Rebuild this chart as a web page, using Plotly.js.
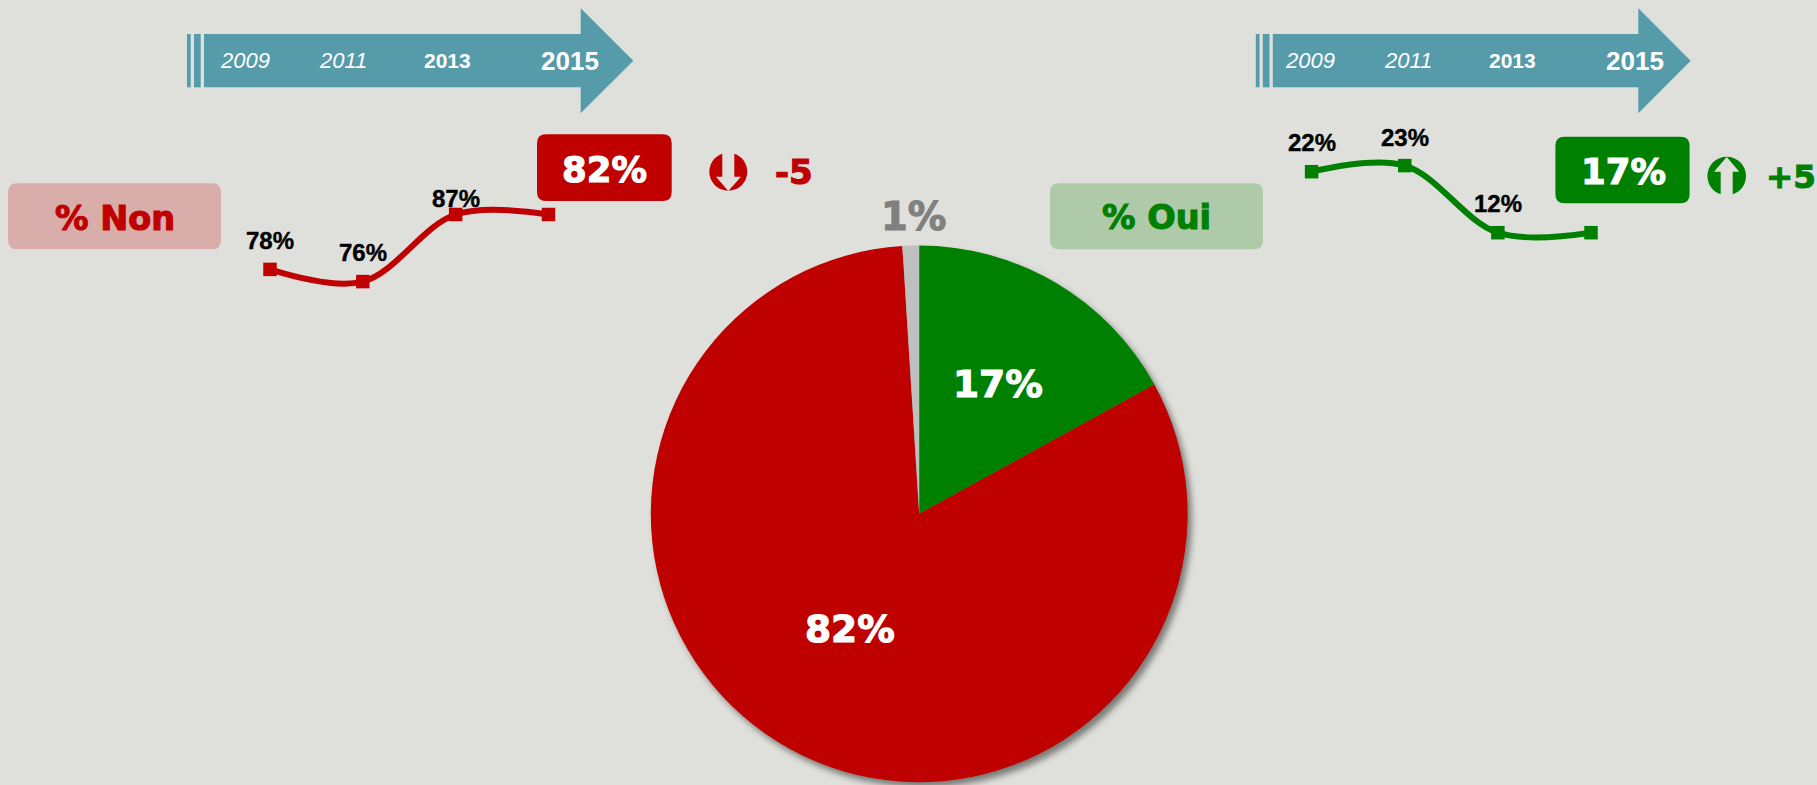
<!DOCTYPE html>
<html><head><meta charset="utf-8">
<script src="https://cdn.plot.ly/plotly-3.0.1.min.js"></script>
<style>html,body{margin:0;padding:0;background:#DFE0DB;overflow:hidden}#c{width:1817px;height:785px}
.pielayer{filter:drop-shadow(4px 5px 3px rgba(0,0,0,.45))}</style>
</head><body><div id="c"></div>
<script>
const years = ['2009','2011','2013','2015'];
const nonValues = [78,76,87,87];
const ouiValues = [22,23,12,12];
const nonLabels = ['78%','76%','87%'];
const ouiLabels = ['22%','23%','12%'];
const nonLatest = '82%', ouiLatest = '17%';
const nonDelta = '-5', ouiDelta = '+5';
const pieLabels = ['% Oui','% Non','NSP'];
const pieValues = [17,82,1];
const pieColors = ['#008000','#BE0000','#BFBFBF'];
const RED='#C00000', GREEN='#008000', TEAL='#559BA9', BG='#DFE0DB';
const W=1817,H=785;
const fx=p=>p/W, fy=p=>1-p/H;
const P=(x,y)=>fx(x)+','+fy(y);
const shapes=[], ann=[];
function path(pts,fill){shapes.push({type:'path',xref:'paper',yref:'paper',path:'M'+pts.map(p=>P(p[0],p[1])).join(' L')+' Z',fillcolor:fill,line:{width:0}});}
function rrect(x0,y0,x1,y1,r,fill){
 shapes.push({type:'path',xref:'paper',yref:'paper',fillcolor:fill,line:{width:0},path:
 `M${P(x0+r,y0)} L${P(x1-r,y0)} Q${P(x1,y0)} ${P(x1,y0+r)} L${P(x1,y1-r)} Q${P(x1,y1)} ${P(x1-r,y1)} L${P(x0+r,y1)} Q${P(x0,y1)} ${P(x0,y1-r)} L${P(x0,y0+r)} Q${P(x0,y0)} ${P(x0+r,y0)} Z`});
}
function circle(cx,cy,r,fill){shapes.push({type:'circle',xref:'paper',yref:'paper',x0:fx(cx-r),x1:fx(cx+r),y0:fy(cy+r),y1:fy(cy-r),fillcolor:fill,line:{width:0}});}
function txt(s,x,y,size,color,family,extra){ann.push(Object.assign({text:s,xref:'paper',yref:'paper',x:fx(x),y:fy(y),xanchor:'center',yanchor:'middle',showarrow:false,font:{size:size,color:color,family:family}},extra||{}));}
const ARIAL='Liberation Sans, Arial, sans-serif', TAHOMA='DejaVu Sans, Verdana, sans-serif';
function timeline(o,tipX,headX,textO){
 path([[187+o,34],[190.7+o,34],[190.7+o,87.3],[187+o,87.3]],TEAL);
 path([[194+o,34],[200.7+o,34],[200.7+o,87.3],[194+o,87.3]],TEAL);
 path([[204+o,34],[headX,34],[headX,8.3],[tipX,60.7],[headX,113.3],[headX,87.3],[204+o,87.3]],TEAL);
 const xs=[245.3,343.3,447.7,570];
 txt('<i>'+years[0]+'</i>',xs[0]+textO,61,22,'#fff',ARIAL);
 txt('<i>'+years[1]+'</i>',xs[1]+textO,61,22,'#fff',ARIAL);
 txt('<b>'+years[2]+'</b>',xs[2]+textO,61,21,'#fff',ARIAL);
 txt('<b>'+years[3]+'</b>',xs[3]+textO,61,26,'#fff',ARIAL);
}
timeline(0,633.3,580.7,0);
timeline(1068.8,1690.7,1638.3,1065);
rrect(8,183.3,221,249.3,9,'#D8ADAA');
txt('<b>% Non</b>',115,219,33.5,RED,TAHOMA);
rrect(537,134.3,671.7,201,9,RED);
txt('<b>'+nonLatest+'</b>',604,170,35.5,'#fff',TAHOMA);
rrect(1050,183.3,1263,249.3,9,'#AECAA9');
txt('<b>% Oui</b>',1156.5,218,33.5,GREEN,TAHOMA);
rrect(1555.4,136.7,1689.6,203.3,9,GREEN);
txt('<b>'+ouiLatest+'</b>',1623,172,35.5,'#fff',TAHOMA);
circle(728.3,171.7,19,RED);
path([[722.3,150],[734.3,150],[734.3,176.7],[741,176.7],[728.3,191],[716,176.7],[722.3,176.7]],BG);
txt('<b>'+nonDelta+'</b>',793.7,172,34,RED,TAHOMA);
circle(1726.7,176,19.3,GREEN);
path([[1726.7,157],[1739.3,171.7],[1732.7,171.7],[1732.7,197],[1720.7,197],[1720.7,171.7],[1714,171.7]],BG);
txt('<b>'+ouiDelta+'</b>',1791,177.3,32.5,GREEN,TAHOMA);
const PX=6.1;
function yDom(refVal,refPx,r){const top=refPx-(r[1]-refVal)*PX,bot=refPx+(refVal-r[0])*PX;return [1-bot/H,1-top/H];}
const rN=[70,95], rO=[5,30];
const idx=[0,1,2,3];
const hidden={visible:false,showgrid:false,zeroline:false,fixedrange:true};
const lineN={type:'scatter',mode:'lines+markers',x:idx,y:nonValues,xaxis:'x',yaxis:'y',cliponaxis:false,line:{color:RED,width:6,shape:'spline',smoothing:1},marker:{symbol:'square',size:13.5,color:RED},hoverinfo:'skip'};
const lineO={type:'scatter',mode:'lines+markers',x:idx,y:ouiValues,xaxis:'x2',yaxis:'y2',cliponaxis:false,line:{color:GREEN,width:6,shape:'spline',smoothing:1},marker:{symbol:'square',size:13.5,color:GREEN},hoverinfo:'skip'};
const shiftN=[29,29,16.5], shiftO=[29,28,29];
nonLabels.forEach((t,i)=>ann.push({text:'<b>'+t+'</b>',xref:'x',yref:'y',x:idx[i],y:nonValues[i],yshift:shiftN[i],showarrow:false,font:{size:24,color:'#000',family:ARIAL}}));
ouiLabels.forEach((t,i)=>ann.push({text:'<b>'+t+'</b>',xref:'x2',yref:'y2',x:idx[i],y:ouiValues[i],yshift:shiftO[i],showarrow:false,font:{size:24,color:'#000',family:ARIAL}}));
const R=268.4,CX=919.2,CY=513.8;
const pie={type:'pie',labels:pieLabels,values:pieValues,sort:false,direction:'clockwise',rotation:0,textinfo:'none',marker:{colors:pieColors,line:{width:0}},hoverinfo:'skip',showlegend:false,
 domain:{x:[fx(CX-R),fx(CX+R)],y:[fy(CY+R),fy(CY-R)]}};
txt('<b>'+pieValues[0]+'%</b>',998,384,37.5,'#fff',TAHOMA);
txt('<b>'+pieValues[1]+'%</b>',850,629,37.5,'#fff',TAHOMA);
txt('<b>'+pieValues[2]+'%</b>',913,217,38.5,'#808080',TAHOMA);
const layout={width:W,height:H,margin:{l:0,r:0,t:0,b:0,pad:0},paper_bgcolor:BG,plot_bgcolor:'rgba(0,0,0,0)',showlegend:false,hovermode:false,
 xaxis:Object.assign({},hidden,{range:[0,3],domain:[fx(270),fx(548.5)]}),
 yaxis:Object.assign({},hidden,{range:rN,domain:yDom(87,214.5,rN)}),
 xaxis2:Object.assign({},hidden,{range:[0,3],domain:[fx(1311.6),fx(1591)],anchor:'y2'}),
 yaxis2:Object.assign({},hidden,{range:rO,domain:yDom(12,232.7,rO),anchor:'x2'}),
 shapes:shapes,annotations:ann};
Plotly.newPlot('c',[lineN,lineO,pie],layout,{displayModeBar:false,staticPlot:true}).then(()=>{
 document.querySelectorAll('.annotation-text').forEach(t=>{
  const heavy=(t.style.fontFamily||'').indexOf('DejaVu')>=0;
  const size=parseFloat(t.style.fontSize)||0;
  if(heavy){t.style.stroke=t.style.fill;t.style.strokeWidth='1.1px';}
  else if(size===24){t.style.stroke=t.style.fill;t.style.strokeWidth='0.4px';}
 });
});
</script></body></html>
